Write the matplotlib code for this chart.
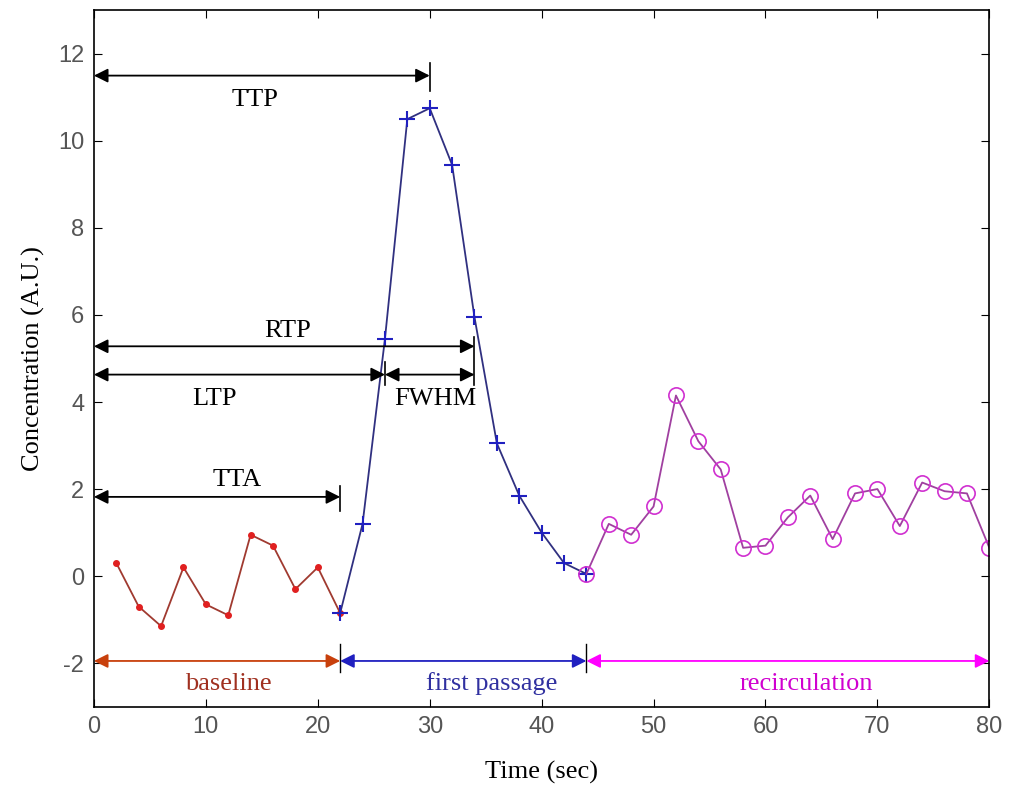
import matplotlib.pyplot as plt

plt.rcParams["axes.unicode_minus"] = False

# phase data (time in sec, concentration in A.U.)
base_t = [2, 4, 6, 8, 10, 12, 14, 16, 18, 20, 22]
base_c = [0.3, -0.7, -1.15, 0.2, -0.65, -0.9, 0.95, 0.7, -0.3, 0.2, -0.85]

first_t = [22, 24, 26, 28, 30, 32, 34, 36, 38, 40, 42, 44]
first_c = [-0.85, 1.2, 5.45, 10.5, 10.75, 9.45, 5.95, 3.05, 1.85, 1.0, 0.3, 0.05]

recirc_t = [44, 46, 48, 50, 52, 54, 56, 58, 60, 62, 64, 66, 68, 70, 72, 74, 76, 78, 80]
recirc_c = [0.05, 1.2, 0.95, 1.6, 4.15, 3.1, 2.45, 0.65, 0.7, 1.35, 1.85, 0.85,
            1.9, 2.0, 1.15, 2.15, 1.95, 1.9, 0.65]

# timing annotations: (label, end time, arrow y, bar low, bar high, label x, label y)
spans = [
    ("TTP", 30, 11.5, 11.15, 11.8, 14.4, 10.95),
    ("RTP", 34, 5.28, 4.4, 5.5, 17.3, 5.63),
    ("LTP", 26, 4.63, 4.4, 4.93, 10.8, 4.08),
    ("TTA", 22, 1.82, 1.5, 2.06, 12.8, 2.2),
]
fwhm = (26, 34, 4.63)

# phases: (label, start, end, arrow colour, text colour, label x)
phases = [
    ("baseline", 0, 22, "#c8400c", "#a03020", 12.0),
    ("first passage", 22, 44, "#2020c0", "#3030a0", 35.5),
    ("recirculation", 44, 80, "#ff00ff", "#d000d0", 63.6),
]

serif = "Liberation Serif"
fs = 19

fig = plt.figure(figsize=(10.21, 7.94), dpi=100)
ax = fig.add_axes([0.092, 0.110, 0.877, 0.877])

ax.plot(base_t, base_c, color="#a03a30", lw=1.3, marker="o", ms=4,
        mfc="#e02020", mec="#e02020")
ax.plot(first_t, first_c, color="#303080", lw=1.3, marker="+", ms=12,
        mew=1.5, mec="#2020c0")
ax.plot(recirc_t, recirc_c, color="#a040a0", lw=1.3, marker="o", ms=11,
        mfc="none", mec="#d030d0", mew=1.2)

arrow_kw = dict(arrowstyle="<|-|>", color="black", lw=1.3,
                mutation_scale=21, shrinkA=0, shrinkB=0)
for label, t_end, y, b0, b1, lx, ly in spans:
    ax.annotate("", xy=(t_end, y), xytext=(0, y), arrowprops=arrow_kw)
    ax.plot([t_end, t_end], [b0, b1], color="black", lw=1.2)
    ax.text(lx, ly, label, family=serif, fontsize=fs, ha="center", va="center")

ax.annotate("", xy=(fwhm[1], fwhm[2]), xytext=(fwhm[0], fwhm[2]), arrowprops=arrow_kw)
ax.text(30.5, 4.08, "FWHM", family=serif, fontsize=fs, ha="center", va="center")

for label, t0, t1, col, tcol, lx in phases:
    kw = dict(arrow_kw, color=col)
    ax.annotate("", xy=(t1, -1.95), xytext=(t0, -1.95), arrowprops=kw)
    ax.text(lx, -2.47, label, family=serif, fontsize=fs,
            ha="center", va="center", color=tcol)
for t in (22, 44):
    ax.plot([t, t], [-2.2, -1.56], color="black", lw=1.0)

ax.set_xlim(0, 80)
ax.set_ylim(-3, 13)
ax.set_xticks(range(0, 81, 10))
ax.set_yticks(range(-2, 13, 2))
ax.tick_params(direction="in", length=6, labelsize=17, labelcolor="#555555",
               top=True, right=True, pad=7)
for t in ax.get_xticklabels() + ax.get_yticklabels():
    t.set_family("Liberation Sans")
for s in ax.spines.values():
    s.set_linewidth(1.2)
ax.set_xlabel("Time (sec)", family=serif, fontsize=fs, labelpad=16)
ax.set_ylabel("Concentration (A.U.)", family=serif, fontsize=fs, labelpad=9)

fig.savefig("out.png", dpi=100)
